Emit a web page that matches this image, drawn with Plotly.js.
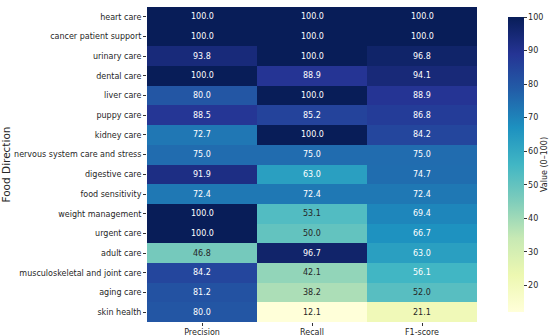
<!DOCTYPE html>
<html>
<head>
<meta charset="utf-8">
<script src="https://cdn.plot.ly/plotly-3.0.1.min.js"></script>
<style>html,body{margin:0;padding:0;background:#fff;}#chart{width:550px;height:336px;}</style>
</head>
<body>
<div id="chart"></div>
<script>
const categories = ["heart care","cancer patient support","urinary care","dental care","liver care","puppy care","kidney care","nervous system care and stress","digestive care","food sensitivity","weight management","urgent care","adult care","musculoskeletal and joint care","aging care","skin health"];
const metrics = ["Precision","Recall","F1-score"];
const precision = [100.0,100.0,93.8,100.0,80.0,88.5,72.7,75.0,91.9,72.4,100.0,100.0,46.8,84.2,81.2,80.0];
const recall    = [100.0,100.0,100.0,88.9,100.0,85.2,100.0,75.0,63.0,72.4,53.1,50.0,96.7,42.1,38.2,12.1];
const f1score   = [100.0,100.0,96.8,94.1,88.9,86.8,84.2,75.0,74.7,72.4,69.4,66.7,63.0,56.1,52.0,21.1];

const z = categories.map((c,i)=>[precision[i],recall[i],f1score[i]]);
const ylgnbu = ["#ffffd9","#edf8b1","#c7e9b4","#7fcdbb","#41b6c4","#1d91c0","#225ea8","#253494","#081d58"];
const colorscale = ylgnbu.map((c,i)=>[i/(ylgnbu.length-1),c]);
const zmin = 12.1, zmax = 100;
const font = "DejaVu Sans, sans-serif";

const annotations = [];
categories.forEach((c,i)=>{
  metrics.forEach((m,j)=>{
    const v = z[i][j];
    annotations.push({x:m,y:c,xref:'x',yref:'y',text:v.toFixed(1),showarrow:false,
      font:{family:font,size:8,color: v < 55 ? '#262626' : '#ffffff'}});
  });
});

const trace = {type:'heatmap',x:metrics,y:categories,z:z,colorscale:colorscale,zmin:zmin,zmax:zmax,
  hoverinfo:'skip',
  colorbar:{x:1.0636,xanchor:'left',xref:'paper',y:0,yanchor:'bottom',len:1,lenmode:'fraction',thickness:16,
    outlinewidth:0,ticks:'outside',ticklen:3,tickcolor:'#333',tickwidth:1,
    tickvals:[20,30,40,50,60,70,80,90,100],
    tickfont:{family:font,size:8,color:'#262626'},
    title:{text:'Value (0–100)',side:'right',font:{family:font,size:8,color:'#262626'}}}};

const layout = {width:550,height:336,margin:{l:147,r:73,t:7,b:14,autoexpand:false},
  paper_bgcolor:'#fff',plot_bgcolor:'#fff',
  font:{family:font,color:'#262626'},
  xaxis:{type:'category',ticks:'outside',ticklen:3,tickcolor:'#333',ticklabelstandoff:-1,automargin:false,tickfont:{family:font,size:8,color:'#262626'},showgrid:false,zeroline:false,showline:false},
  yaxis:{type:'category',autorange:'reversed',ticks:'outside',ticklen:3,tickcolor:'#333',automargin:false,tickfont:{family:font,size:8,color:'#262626'},showgrid:false,zeroline:false,showline:false,
    title:{text:'Food Direction',font:{family:font,size:10.5,color:'#262626'},standoff:4}},
  annotations:annotations};

Plotly.newPlot('chart',[trace],layout,{displayModeBar:false,staticPlot:true});
</script>
</body>
</html>
